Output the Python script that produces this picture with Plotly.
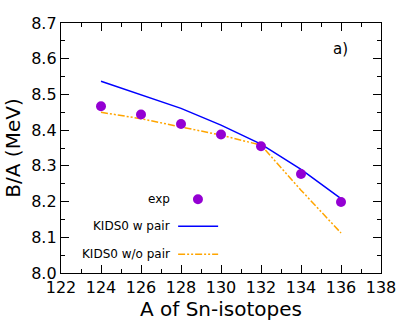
import plotly.graph_objects as go

A = [124, 126, 128, 130, 132, 134, 136]
exp_ba = [8.467, 8.444, 8.417, 8.388, 8.355, 8.277, 8.199]
kids_w_pair = [8.537, 8.500, 8.461, 8.414, 8.361, 8.290, 8.208]
kids_wo_pair = [8.450, 8.432, 8.409, 8.386, 8.358, 8.232, 8.112]

x_ticks = [122, 124, 126, 128, 130, 132, 134, 136, 138]
y_ticks = [8.0, 8.1, 8.2, 8.3, 8.4, 8.5, 8.6, 8.7]

FONT = "DejaVu Sans"
purple = "#9400D3"
blue = "#0000FF"
orange = "#FFA500"
dash_orange = "7px,2px,2px,2px,2px,2px"

fig = go.Figure()
fig.add_trace(go.Scatter(x=A, y=kids_w_pair, mode="lines",
                         line=dict(color=blue, width=1.5), name="KIDS0 w pair"))
fig.add_trace(go.Scatter(x=A, y=kids_wo_pair, mode="lines",
                         line=dict(color=orange, width=1.5, dash=dash_orange), name="KIDS0 w/o pair"))
fig.add_trace(go.Scatter(x=A, y=exp_ba, mode="markers",
                         marker=dict(color=purple, size=10), name="exp"))

axis_common = dict(showgrid=False, zeroline=False, showline=True, linecolor="black",
                   linewidth=1.3, mirror="allticks", ticks="inside", ticklen=8,
                   tickcolor="black", tickwidth=1.2, automargin=False,
                   tickfont=dict(family=FONT, size=16, color="black"))

fig.update_xaxes(range=[122, 138], tickvals=x_ticks, ticktext=[str(v) for v in x_ticks],
                 minor=dict(dtick=1, ticks="inside", ticklen=4, tickcolor="black", tickwidth=1.2),
                 title=dict(text="A of Sn-isotopes", font=dict(family=FONT, size=20, color="black"), standoff=3),
                 **axis_common)
fig.update_yaxes(range=[8.0, 8.7], tickvals=y_ticks, ticktext=[f"{v:.1f}" for v in y_ticks],
                 minor=dict(dtick=0.05, ticks="inside", ticklen=4, tickcolor="black", tickwidth=1.2),
                 title=dict(text="B/A (MeV)", font=dict(family=FONT, size=20, color="black"), standoff=5),
                 **axis_common)

# Gnuplot-style legend drawn inside the plot area
leg_text_x = 0.347
leg_line_x0, leg_line_x1 = 0.366, 0.491
leg_marker_x = 0.428
leg_rows = [("exp", 0.295), ("KIDS0 w pair", 0.187), ("KIDS0 w/o pair", 0.075)]
for label, yy in leg_rows:
    fig.add_annotation(x=leg_text_x, y=yy, xref="paper", yref="paper", text=label,
                       showarrow=False, xanchor="right", yanchor="middle",
                       font=dict(family=FONT, size=12, color="black"))
fig.add_shape(type="circle", xref="paper", yref="paper", xsizemode="pixel", ysizemode="pixel",
              xanchor=leg_marker_x, yanchor=leg_rows[0][1], x0=-5, x1=5, y0=-5, y1=5,
              fillcolor=purple, line=dict(color=purple, width=0))
fig.add_shape(type="line", xref="paper", yref="paper", x0=leg_line_x0, x1=leg_line_x1,
              y0=leg_rows[1][1], y1=leg_rows[1][1], line=dict(color=blue, width=1.5))
fig.add_shape(type="line", xref="paper", yref="paper", x0=leg_line_x0, x1=leg_line_x1,
              y0=leg_rows[2][1], y1=leg_rows[2][1], line=dict(color=orange, width=1.5, dash=dash_orange))

fig.add_annotation(x=0.872, y=0.896, xref="paper", yref="paper", text="a)", showarrow=False,
                   xanchor="center", yanchor="middle", font=dict(family=FONT, size=15, color="black"))

fig.update_layout(width=407, height=322, margin=dict(l=61, r=26, t=23, b=49),
                  paper_bgcolor="white", plot_bgcolor="white", showlegend=False)

fig.write_html("out.html", config={"displayModeBar": False},
               post_script="document.body.style.margin='0';")
